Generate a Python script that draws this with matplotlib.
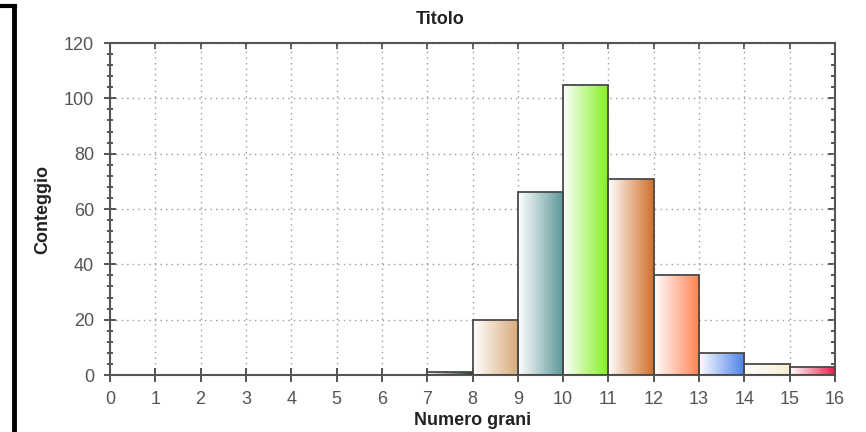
import numpy as np
import matplotlib
matplotlib.use("Agg")
import matplotlib.pyplot as plt
from matplotlib.colors import LinearSegmentedColormap
from matplotlib.lines import Line2D
from matplotlib.ticker import MultipleLocator

# ---- data ----
bin_left = [0, 1, 2, 3, 4, 5, 6, 7, 8, 9, 10, 11, 12, 13, 14, 15]
counts = [0, 0, 0, 0, 0, 0, 0, 1, 20, 66, 105, 71, 36, 8, 4, 3]
x_ticks = list(range(0, 17))
y_ticks = [0, 20, 40, 60, 80, 100, 120]
title = "Titolo"
x_label = "Numero grani"
y_label = "Conteggio"

# ---- style ----
bar_colors = ['#ffffff'] * 7 + ['#1f3a1f', '#d8a878', '#5a9698', '#80f01c',
                                '#cf6f28', '#ff8050', '#4a80e8', '#f6f0d2', '#e01c48']

plt.rcParams['font.family'] = ['Liberation Sans', 'DejaVu Sans']

fig = plt.figure(figsize=(8.66, 4.32), dpi=100)
ax = fig.add_axes([110 / 866, 1 - 375 / 432, (835 - 110) / 866, (375 - 43) / 432])

bars = ax.bar(bin_left, counts, width=1.0, align='edge',
              facecolor='none', edgecolor='#4a4a4a', linewidth=1.3, zorder=3)

grad = np.linspace(0, 1, 256).reshape(1, -1)
for rect, c, v in zip(bars, bar_colors, counts):
    if v <= 0:
        rect.set_visible(False)
        continue
    cmap = LinearSegmentedColormap.from_list('g', ['#ffffff', c])
    x0, y0 = rect.get_x(), rect.get_y()
    w, h = rect.get_width(), rect.get_height()
    im = ax.imshow(grad, cmap=cmap, aspect='auto', extent=(x0, x0 + w, y0, y0 + h),
                   origin='lower', zorder=2, interpolation='bilinear')
    im.set_clip_path(rect)

ax.set_xlim(0, 16)
ax.set_ylim(0, 120)
ax.set_xticks(x_ticks)
ax.set_yticks(y_ticks)
ax.yaxis.set_minor_locator(MultipleLocator(4))

ax.grid(True, which='major', linestyle=(0, (1, 3)), color='#9a9a9a', linewidth=1.0, zorder=1)

for s in ax.spines.values():
    s.set_color('#555555')
    s.set_linewidth(1.5)

ax.tick_params(axis='x', which='major', direction='inout', length=10, width=1.4,
               color='#555555', labelsize=13, labelcolor='#555555', pad=6.5)
ax.tick_params(axis='y', which='major', direction='inout', length=9, width=1.4,
               color='#555555', labelsize=13, labelcolor='#555555', pad=7)
ax.tick_params(axis='y', which='minor', direction='inout', length=4.5, width=1.4,
               color='#555555')

top = ax.secondary_xaxis('top')
top.set_xticks(x_ticks)
top.tick_params(direction='in', length=4, width=1.4, color='#555555', labeltop=False)
top.spines['top'].set_visible(False)

right = ax.secondary_yaxis('right')
right.set_yticks(y_ticks)
right.yaxis.set_minor_locator(MultipleLocator(4))
right.tick_params(which='major', direction='in', length=5, width=1.4, color='#555555', labelright=False)
right.tick_params(which='minor', direction='in', length=3, width=1.4, color='#555555')
right.spines['right'].set_visible(False)

ax.set_xlabel(x_label, fontsize=13, fontweight='bold', color='#222222', labelpad=3)
ax.set_ylabel(y_label, fontsize=13, fontweight='bold', color='#222222', labelpad=9)
fig.text(440 / 866, 1 - 20 / 432, title, ha='center', va='center',
         fontsize=13, fontweight='bold', color='#222222')

# outer black frame fragments
fig.add_artist(Line2D([0, 15 / 866], [1 - 6 / 432, 1 - 6 / 432], color='black', linewidth=3,
                      transform=fig.transFigure))
fig.add_artist(Line2D([14 / 866, 14 / 866], [1 - 6 / 432, 0], color='black', linewidth=3.5,
                      transform=fig.transFigure))

fig.savefig('out.png', dpi=100)
